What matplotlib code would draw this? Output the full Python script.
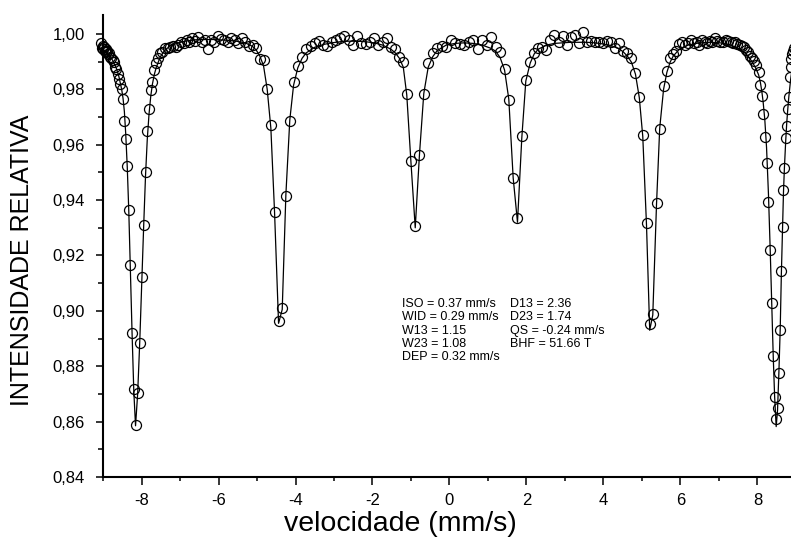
import matplotlib.pyplot as plt
from matplotlib.ticker import MultipleLocator, FuncFormatter

plt.rcParams['font.family'] = ['Liberation Sans', 'DejaVu Sans']
plt.rcParams['axes.unicode_minus'] = False

# measured spectrum, split by region (velocity in mm/s, relative intensity)
vel_dip1 = [-9.05, -9.03, -9.01, -8.99, -8.97, -8.95, -8.93, -8.91, -8.885, -8.86,
            -8.835, -8.81, -8.78, -8.75, -8.72, -8.69, -8.655, -8.62, -8.585, -8.55,
            -8.515, -8.48, -8.445, -8.41, -8.37, -8.33, -8.29, -8.245, -8.20, -8.155,
            -8.10, -8.045, -7.99, -7.94, -7.895, -7.85, -7.805, -7.76, -7.715, -7.665,
            -7.615, -7.565, -7.51, -7.46, -7.40]
int_dip1 = [0.9966, 0.9950, 0.9956, 0.9944, 0.9952, 0.9940, 0.9946, 0.9936, 0.9938, 0.9928,
            0.9930, 0.9918, 0.9914, 0.9906, 0.9898, 0.9880, 0.9874, 0.9856, 0.9838, 0.9820,
            0.9800, 0.9766, 0.9686, 0.9620, 0.9524, 0.9363, 0.9166, 0.8919, 0.8718, 0.8588,
            0.8704, 0.8885, 0.9124, 0.9310, 0.9503, 0.9650, 0.9728, 0.9798, 0.9828, 0.9870,
            0.9896, 0.9912, 0.9930, 0.9936, 0.9950]

vel_flat1 = [-7.315, -7.25, -7.185, -7.115, -7.045, -6.975, -6.905, -6.83, -6.755, -6.68,
             -6.60, -6.52, -6.44, -6.36, -6.28, -6.195, -6.11, -6.025, -5.94, -5.85,
             -5.76, -5.67, -5.58, -5.49, -5.40, -5.305, -5.21, -5.115, -5.02, -4.925, -4.83]
int_flat1 = [0.9948, 0.9954, 0.9958, 0.9952, 0.9962, 0.9972, 0.9966, 0.9978, 0.9970, 0.9984,
             0.9975, 0.9988, 0.9972, 0.9980, 0.9946, 0.9978, 0.9970, 0.9994, 0.9983, 0.9978,
             0.9972, 0.9986, 0.9978, 0.9968, 0.9984, 0.9970, 0.9956, 0.9960, 0.9948, 0.9910, 0.9906]

vel_dip2 = [-4.735, -4.64, -4.545, -4.44, -4.345, -4.25, -4.148, -4.05]
int_dip2 = [0.9801, 0.9670, 0.9357, 0.8962, 0.9010, 0.9415, 0.9686, 0.9827]

vel_flat2 = [-3.94, -3.83, -3.72, -3.61, -3.50, -3.39, -3.28, -3.17, -3.06, -2.95,
             -2.84, -2.73, -2.62, -2.51, -2.40, -2.29, -2.18, -2.07, -1.96, -1.85,
             -1.74, -1.63, -1.52, -1.41, -1.30, -1.20]
int_flat2 = [0.9884, 0.9918, 0.9945, 0.9958, 0.9968, 0.9976, 0.9962, 0.9956, 0.9972, 0.9978,
             0.9984, 0.9992, 0.9978, 0.9960, 0.9993, 0.9968, 0.9964, 0.9972, 0.9984, 0.9962,
             0.9972, 0.9986, 0.9954, 0.9946, 0.9916, 0.9898]

vel_dip3 = [-1.11, -1.005, -0.89, -0.78, -0.668, -0.553]
int_dip3 = [0.9782, 0.9540, 0.9305, 0.9564, 0.9783, 0.9895]

vel_flat3 = [-0.436, -0.32, -0.203, -0.086, 0.03, 0.147, 0.264, 0.38, 0.497, 0.614,
             0.73, 0.847, 0.964, 1.08, 1.197, 1.314, 1.43]
int_flat3 = [0.9930, 0.9950, 0.9958, 0.9954, 0.9978, 0.9966, 0.9964, 0.9962, 0.9972, 0.9980,
             0.9946, 0.9978, 0.9960, 0.9988, 0.9954, 0.9934, 0.9875]

vel_dip4 = [1.54, 1.654, 1.766, 1.878, 1.982, 2.096]
int_dip4 = [0.9762, 0.9480, 0.9337, 0.9630, 0.9834, 0.9899]

vel_flat4 = [2.20, 2.306, 2.41, 2.517, 2.622, 2.727, 2.833, 2.938, 3.043, 3.148,
             3.254, 3.36, 3.464, 3.57, 3.675, 3.78, 3.885, 3.99, 4.096, 4.20,
             4.306, 4.41, 4.516, 4.62, 4.726]
int_flat4 = [0.9930, 0.9948, 0.9954, 0.9942, 0.9978, 0.9998, 0.9972, 0.9992, 0.9962, 0.9988,
             0.9995, 0.9968, 1.0008, 0.9972, 0.9974, 0.9970, 0.9972, 0.9968, 0.9974, 0.9970,
             0.9948, 0.9966, 0.9940, 0.9932, 0.9912]

vel_dip5 = [4.83, 4.93, 5.02, 5.117, 5.20, 5.28, 5.377, 5.46, 5.56, 5.647]
int_dip5 = [0.9858, 0.9774, 0.9634, 0.9316, 0.8953, 0.8990, 0.9389, 0.9658, 0.9812, 0.9867]

vel_flat5 = [5.73, 5.81, 5.89, 5.97, 6.05, 6.125, 6.20, 6.275, 6.35, 6.42,
             6.49, 6.56, 6.63, 6.70, 6.765, 6.83, 6.895, 6.96, 7.03, 7.10,
             7.17, 7.235, 7.30, 7.36, 7.42, 7.48, 7.54, 7.595, 7.65, 7.705,
             7.76, 7.81, 7.86, 7.91, 7.96]
int_flat5 = [0.9912, 0.9926, 0.9940, 0.9964, 0.9972, 0.9962, 0.9966, 0.9978, 0.9966, 0.9972,
             0.9960, 0.9980, 0.9972, 0.9966, 0.9976, 0.9970, 0.9984, 0.9976, 0.9972, 0.9970,
             0.9978, 0.9974, 0.9972, 0.9966, 0.9972, 0.9964, 0.9960, 0.9956, 0.9954, 0.9942,
             0.9934, 0.9920, 0.9914, 0.9904, 0.9888]

vel_dip6 = [8.03, 8.075, 8.11, 8.146, 8.19, 8.235, 8.285, 8.33, 8.37, 8.41,
            8.445, 8.485, 8.52, 8.555, 8.59, 8.62, 8.65, 8.675, 8.70, 8.735,
            8.76, 8.79, 8.815, 8.84, 8.86, 8.88, 8.90, 8.92, 8.94]
int_dip6 = [0.9864, 0.9816, 0.9775, 0.9710, 0.9627, 0.9533, 0.9394, 0.9220, 0.9027, 0.8838,
            0.8688, 0.8611, 0.8648, 0.8777, 0.8932, 0.9143, 0.9304, 0.9437, 0.9515, 0.9626,
            0.9669, 0.9729, 0.9774, 0.9846, 0.9880, 0.9910, 0.9928, 0.9940, 0.9948]

velocity = (vel_dip1 + vel_flat1 + vel_dip2 + vel_flat2 + vel_dip3 + vel_flat3
            + vel_dip4 + vel_flat4 + vel_dip5 + vel_flat5 + vel_dip6)
intensity = (int_dip1 + int_flat1 + int_dip2 + int_flat2 + int_dip3 + int_flat3
             + int_dip4 + int_flat4 + int_dip5 + int_flat5 + int_dip6)

# sextet fit curve
fit_velocity = [-9.05, -8.95, -8.85, -8.75, -8.65, -8.585, -8.515, -8.48, -8.445, -8.41,
                -8.37, -8.33, -8.29, -8.245, -8.20, -8.155, -8.10, -8.045, -7.99, -7.94,
                -7.895, -7.85, -7.805, -7.76, -7.715, -7.665, -7.615, -7.51, -7.40, -7.25,
                -7.045, -6.83, -6.60, -6.36, -6.11, -5.85, -5.58, -5.305, -5.115, -5.02,
                -4.925, -4.83, -4.735, -4.64, -4.545, -4.44, -4.345, -4.25, -4.148, -4.05,
                -3.94, -3.83, -3.72, -3.50, -3.28, -3.06, -2.84, -2.62, -2.40, -2.18,
                -1.96, -1.74, -1.52, -1.41, -1.30, -1.20, -1.11, -1.005, -0.89, -0.78,
                -0.668, -0.553, -0.436, -0.32, -0.086, 0.147, 0.38, 0.614, 0.847, 1.08,
                1.197, 1.314, 1.43, 1.54, 1.654, 1.766, 1.878, 1.982, 2.096, 2.20,
                2.306, 2.517, 2.727, 2.938, 3.148, 3.36, 3.57, 3.78, 3.99, 4.20,
                4.41, 4.516, 4.62, 4.726, 4.83, 4.93, 5.02, 5.117, 5.20, 5.28,
                5.377, 5.46, 5.56, 5.647, 5.73, 5.81, 5.97, 6.20, 6.49, 6.765,
                7.03, 7.30, 7.54, 7.705, 7.86, 7.96, 8.03, 8.075, 8.11, 8.146,
                8.19, 8.235, 8.285, 8.33, 8.37, 8.41, 8.445, 8.485, 8.52, 8.555,
                8.59, 8.62, 8.65, 8.675, 8.70, 8.735, 8.76, 8.79, 8.815, 8.84,
                8.86, 8.88, 8.92, 8.96]
fit_intensity = [0.9950, 0.9940, 0.9926, 0.9905, 0.9875, 0.9845, 0.9800, 0.9768, 0.9720, 0.9640,
                 0.9520, 0.9360, 0.9150, 0.8920, 0.8710, 0.8585, 0.8700, 0.8890, 0.9120, 0.9320,
                 0.9490, 0.9620, 0.9710, 0.9775, 0.9820, 0.9855, 0.9880, 0.9918, 0.9940, 0.9958,
                 0.9968, 0.9975, 0.9979, 0.9980, 0.9980, 0.9978, 0.9975, 0.9968, 0.9955, 0.9942,
                 0.9920, 0.9885, 0.9800, 0.9660, 0.9360, 0.8955, 0.9005, 0.9420, 0.9690, 0.9815,
                 0.9878, 0.9912, 0.9932, 0.9952, 0.9962, 0.9968, 0.9972, 0.9974, 0.9974, 0.9972,
                 0.9968, 0.9960, 0.9945, 0.9932, 0.9912, 0.9880, 0.9780, 0.9545, 0.9300, 0.9565,
                 0.9785, 0.9880, 0.9918, 0.9940, 0.9960, 0.9966, 0.9968, 0.9966, 0.9960, 0.9948,
                 0.9938, 0.9915, 0.9870, 0.9765, 0.9480, 0.9320, 0.9625, 0.9830, 0.9895, 0.9928,
                 0.9945, 0.9960, 0.9966, 0.9968, 0.9970, 0.9970, 0.9970, 0.9968, 0.9964, 0.9958,
                 0.9946, 0.9935, 0.9920, 0.9898, 0.9855, 0.9770, 0.9630, 0.9310, 0.8930, 0.8985,
                 0.9385, 0.9660, 0.9800, 0.9862, 0.9898, 0.9920, 0.9945, 0.9960, 0.9968, 0.9970,
                 0.9968, 0.9960, 0.9945, 0.9928, 0.9900, 0.9875, 0.9852, 0.9825, 0.9795, 0.9755,
                 0.9690, 0.9590, 0.9420, 0.9220, 0.9020, 0.8830, 0.8690, 0.8582, 0.8640, 0.8775,
                 0.8935, 0.9135, 0.9300, 0.9430, 0.9520, 0.9620, 0.9680, 0.9735, 0.9775, 0.9810,
                 0.9835, 0.9855, 0.9885, 0.9905]

params_left = ['ISO = 0.37 mm/s', 'WID = 0.29 mm/s', 'W13 = 1.15', 'W23 = 1.08', 'DEP = 0.32 mm/s']
params_right = ['D13 = 2.36', 'D23 = 1.74', 'QS = -0.24 mm/s', 'BHF = 51.66 T']

W, H = 791, 542
fig = plt.figure(figsize=(W / 100, H / 100), dpi=100)
ax = fig.add_axes([103 / W, 65 / H, 693 / W, 462.4 / H])

ax.plot(fit_velocity, fit_intensity, color='black', lw=0.9, clip_on=False, zorder=2)
ax.plot(velocity, intensity, 'o', mfc='none', mec='black', ms=7.2, mew=0.9,
        clip_on=False, zorder=3)

ax.set_xlim(-9, 9)
ax.set_ylim(0.84, 1.007)
for side in ('top', 'right'):
    ax.spines[side].set_visible(False)
for side in ('left', 'bottom'):
    ax.spines[side].set_linewidth(1.5)

ax.xaxis.set_major_locator(MultipleLocator(2))
ax.xaxis.set_minor_locator(MultipleLocator(1))
ax.yaxis.set_major_locator(MultipleLocator(0.02))
ax.yaxis.set_minor_locator(MultipleLocator(0.01))
ax.xaxis.set_major_formatter(FuncFormatter(lambda v, p: f'{v:.0f}'))
ax.yaxis.set_major_formatter(FuncFormatter(lambda v, p: f'{v:.2f}'.replace('.', ',')))
ax.tick_params(axis='x', which='major', direction='out', length=5.8, width=1.1,
               labelsize=12, pad=6)
ax.tick_params(axis='x', which='minor', direction='out', length=3, width=1.1)
ax.tick_params(axis='y', which='major', direction='out', length=5.3, width=1.1,
               labelsize=12, pad=8)
ax.tick_params(axis='y', which='minor', direction='out', length=3.6, width=1.1)

fig.text(400 / W, 1 - 524 / H, 'velocidade (mm/s)', ha='center', va='center', fontsize=20.5)
fig.text(22 / W, 1 - 260 / H, 'INTENSIDADE RELATIVA', ha='center', va='center',
         rotation=90, fontsize=18)

row_y = [304, 317.3, 330.7, 344, 357.3]
for i, s in enumerate(params_left):
    fig.text(401.7 / W, 1 - row_y[i] / H, s, ha='left', va='center', fontsize=9)
for i, s in enumerate(params_right):
    fig.text(510 / W, 1 - row_y[i] / H, s, ha='left', va='center', fontsize=9)

fig.savefig('out.png', dpi=100)
